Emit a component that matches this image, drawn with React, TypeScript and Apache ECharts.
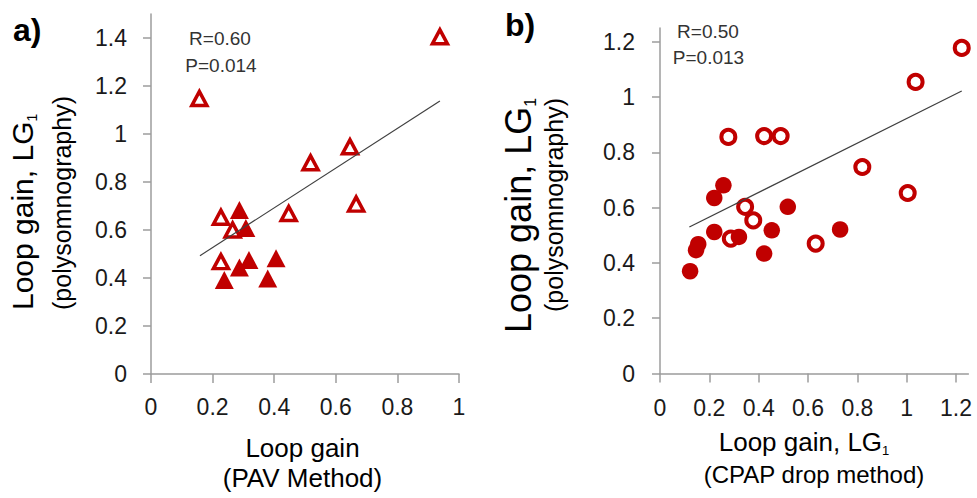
import React, { useEffect, useRef } from "react";
import * as echarts from "echarts";

const FONT = "Liberation Sans, Arial, sans-serif";
const RED = "#C00000";
const AXIS = "#9c9c9c";

// Panel a) : PAV method vs polysomnography
const pavOpen: [number, number][] = [
  [0.157, 1.148], [0.938, 1.405], [0.646, 0.947], [0.518, 0.88], [0.666, 0.708],
  [0.447, 0.669], [0.227, 0.653], [0.265, 0.6], [0.227, 0.468],
];
const pavFilled: [number, number][] = [
  [0.287, 0.683], [0.308, 0.608], [0.238, 0.392], [0.287, 0.444],
  [0.318, 0.475], [0.406, 0.482], [0.379, 0.398],
];
const pavTrend: [number, number][] = [[0.159, 0.493], [0.938, 1.1375]];

// Panel b) : CPAP drop method vs polysomnography
const cpapOpen: [number, number][] = [
  [1.223, 1.178], [1.036, 1.055], [0.82, 0.747], [1.004, 0.653], [0.277, 0.856],
  [0.422, 0.859], [0.489, 0.859], [0.345, 0.603], [0.378, 0.554], [0.287, 0.488],
  [0.631, 0.47],
];
const cpapFilled: [number, number][] = [
  [0.257, 0.681], [0.22, 0.635], [0.22, 0.512], [0.518, 0.603], [0.453, 0.518],
  [0.32, 0.494], [0.155, 0.468], [0.146, 0.446], [0.122, 0.37], [0.422, 0.434],
  [0.73, 0.521],
];
const cpapTrend: [number, number][] = [[0.119, 0.53], [1.223, 1.022]];

const xTicksA = [0, 0.2, 0.4, 0.6, 0.8, 1];
const yTicksA = [0, 0.2, 0.4, 0.6, 0.8, 1, 1.2, 1.4];
const ticksB = [0, 0.2, 0.4, 0.6, 0.8, 1, 1.2];

const statsA = ["R=0.60", "P=0.014"];
const statsB = ["R=0.50", "P=0.013"];

function valueAxis(idx: number, max: number, ticks: number[], isY: boolean, margin: number) {
  return {
    type: "value",
    gridIndex: idx,
    min: 0,
    max,
    interval: 0.2,
    splitLine: { show: false },
    axisLine: { show: true, onZero: false, lineStyle: { color: AXIS, width: 1.5 } },
    axisTick: {
      show: true,
      inside: false,
      length: isY ? 8 : 9,
      customValues: ticks,
      lineStyle: { color: AXIS, width: 1.5 },
    },
    axisLabel: {
      customValues: ticks,
      margin,
      color: "#1a1a1a",
      fontSize: 23,
      fontFamily: FONT,
    },
  };
}

function txt(x: number, y: number, text: string, opts: any = {}) {
  return {
    type: "text",
    x,
    y,
    rotation: opts.rotation || 0,
    silent: true,
    style: {
      text,
      fill: opts.fill || "#000",
      fontSize: opts.fontSize || 20,
      fontFamily: FONT,
      fontWeight: opts.fontWeight || "normal",
      textAlign: opts.align || "center",
      textVerticalAlign: "middle",
      rich: opts.rich,
    },
  };
}

function subRich(main: number, sub: number, lh: number) {
  return {
    m: { fontSize: main, fontFamily: FONT, fill: "#000", lineHeight: lh },
    s: { fontSize: sub, fontFamily: FONT, fill: "#000", lineHeight: sub + 2, verticalAlign: "bottom" },
  };
}

export default function App() {
  const ref = useRef<HTMLDivElement>(null);
  useEffect(() => {
    if (!ref.current) return;
    const chart = echarts.init(ref.current, undefined, { renderer: "svg" });
    const openTri = { color: "#fff", borderColor: RED, borderWidth: 3.5, opacity: 1 };
    const openCirc = { color: "#fff", borderColor: RED, borderWidth: 4, opacity: 1 };
    const filled = { color: RED, opacity: 1 };
    chart.setOption({
      animation: false,
      backgroundColor: "#fff",
      grid: [
        { left: 151, top: 14, width: 308, height: 360 },
        { left: 660, top: 28, width: 308.4, height: 345.5 },
      ],
      xAxis: [
        valueAxis(0, 1, xTicksA, false, 21),
        valueAxis(1, 1.25, ticksB, false, 23),
      ],
      yAxis: [
        valueAxis(0, 1.5, yTicksA, true, 24),
        valueAxis(1, 1.25, ticksB, true, 25),
      ],
      series: [
        {
          type: "scatter", xAxisIndex: 0, yAxisIndex: 0, data: pavOpen,
          symbol: "triangle", symbolSize: [15, 14], itemStyle: openTri,
        },
        {
          type: "scatter", xAxisIndex: 0, yAxisIndex: 0, data: pavFilled,
          symbol: "triangle", symbolSize: [19, 18], itemStyle: filled,
        },
        {
          type: "line", xAxisIndex: 0, yAxisIndex: 0, data: pavTrend, symbol: "none",
          lineStyle: { color: "#404040", width: 1.2 }, z: 5,
        },
        {
          type: "scatter", xAxisIndex: 1, yAxisIndex: 1, data: cpapOpen,
          symbol: "circle", symbolSize: 14, itemStyle: openCirc,
        },
        {
          type: "scatter", xAxisIndex: 1, yAxisIndex: 1, data: cpapFilled,
          symbol: "circle", symbolSize: 16.5, itemStyle: filled,
        },
        {
          type: "line", xAxisIndex: 1, yAxisIndex: 1, data: cpapTrend, symbol: "none",
          lineStyle: { color: "#404040", width: 1.2 }, z: 5,
        },
      ],
      graphic: [
        txt(13, 30, "a)", { fontSize: 32, fontWeight: "bold", align: "left" }),
        txt(505, 25, "b)", { fontSize: 32, fontWeight: "bold", align: "left" }),
        txt(220, 38.5, statsA[0], { fontSize: 19, fill: "#333" }),
        txt(221, 65, statsA[1], { fontSize: 19, fill: "#333" }),
        txt(708, 31.5, statsB[0], { fontSize: 19, fill: "#333" }),
        txt(708.5, 57.5, statsB[1], { fontSize: 19, fill: "#333" }),
        // panel a axis titles
        txt(302.5, 448, "Loop gain", { fontSize: 26 }),
        txt(302.5, 478, "(PAV Method)", { fontSize: 26 }),
        txt(22, 310, "{m|Loop gain, LG}{s|1}", {
          rotation: Math.PI / 2, align: "left", rich: subRich(30, 14, 34),
        }),
        txt(62, 310, "(polysomnography)", { rotation: Math.PI / 2, align: "left", fontSize: 25 }),
        // panel b axis titles
        txt(804, 442, "{m|Loop gain, LG}{s|1}", { rich: subRich(26, 13, 30) }),
        txt(814, 474, "(CPAP drop method)", { fontSize: 24 }),
        txt(518, 333, "{m|Loop gain, LG}{s|1}", {
          rotation: Math.PI / 2, align: "left", rich: subRich(36, 16, 40),
        }),
        txt(554, 312, "(polysomnography)", { rotation: Math.PI / 2, align: "left", fontSize: 25 }),
      ],
    });
    return () => chart.dispose();
  }, []);
  return (
    <div
      ref={ref}
      style={{ position: "absolute", left: 0, top: 0, width: 977, height: 498, background: "#fff" }}
    />
  );
}
